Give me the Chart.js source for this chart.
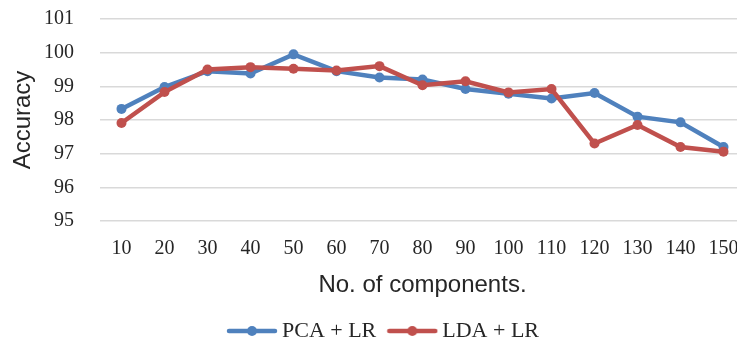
<!DOCTYPE html>
<html>
<head>
<meta charset="utf-8">
<script src="https://cdn.jsdelivr.net/npm/chart.js@4"></script>
<style>
  html, body { margin: 0; padding: 0; background: #fff; overflow: hidden; }
  #wrap { position: relative; width: 750px; height: 352px; }
</style>
</head>
<body>
<div id="wrap"><canvas id="accuracyChart"></canvas></div>
<script>
const components = ['10', '20', '30', '40', '50', '60', '70', '80', '90', '100', '110', '120', '130', '140', '150'];
const pcaLr = [98.33, 98.98, 99.45, 99.38, 99.95, 99.45, 99.26, 99.2, 98.92, 98.78, 98.64, 98.8, 98.1, 97.93, 97.2];
const ldaLr = [97.91, 98.83, 99.5, 99.57, 99.52, 99.47, 99.6, 99.03, 99.15, 98.82, 98.92, 97.3, 97.85, 97.2, 97.06];
const yTicks = [95, 96, 97, 98, 99, 100, 101];

const blue = '#4F81BD';
const red = '#C0504D';

// little line-with-marker icons for the legend, like the spreadsheet one
function legendIcon(color) {
    const c = document.createElement('canvas');
    c.width = 52;
    c.height = 14;
    const g = c.getContext('2d');
    g.strokeStyle = color;
    g.lineWidth = 4.5;
    g.lineCap = 'round';
    g.beginPath();
    g.moveTo(3, 7);
    g.lineTo(49, 7);
    g.stroke();
    g.fillStyle = color;
    g.beginPath();
    g.arc(26, 7, 5, 0, Math.PI * 2);
    g.fill();
    return c;
}
const icons = [legendIcon(blue), legendIcon(red)];

const ctx = document.getElementById('accuracyChart').getContext('2d');
new Chart(ctx, {
    type: 'line',
    data: {
        labels: components,
        datasets: [
            {
                label: 'PCA + LR',
                data: pcaLr,
                borderColor: blue,
                backgroundColor: blue,
                borderWidth: 4.5,
                pointRadius: 5,
                pointBorderWidth: 0,
                pointBackgroundColor: blue,
                order: 1
            },
            {
                label: 'LDA + LR',
                data: ldaLr,
                borderColor: red,
                backgroundColor: red,
                borderWidth: 4.5,
                pointRadius: 5,
                pointBorderWidth: 0,
                pointBackgroundColor: red,
                order: 0
            }
        ]
    },
    options: {
        responsive: true,
        maintainAspectRatio: false,
        animation: false,
        layout: {
            padding: { top: 19, left: 22, right: 0, bottom: 0 }
        },
        plugins: {
            tooltip: { enabled: false },
            legend: {
                position: 'bottom',
                labels: {
                    usePointStyle: true,
                    pointStyleWidth: 38,
                    padding: 17,
                    color: '#262626',
                    font: { family: 'Liberation Serif', size: 22 },
                    sort: (a, b) => a.datasetIndex - b.datasetIndex,
                    generateLabels: function (chart) {
                        const items = Chart.defaults.plugins.legend.labels.generateLabels(chart);
                        items.forEach(it => { it.pointStyle = icons[it.datasetIndex]; });
                        return items;
                    }
                }
            }
        },
        scales: {
            x: {
                offset: true,
                grid: { display: false, offset: true },
                border: { display: false },
                ticks: {
                    color: '#262626',
                    padding: 8,
                    maxRotation: 0,
                    autoSkip: false,
                    font: { family: 'Liberation Serif', size: 20 }
                },
                title: {
                    display: true,
                    text: 'No. of components.',
                    color: '#262626',
                    padding: { top: 0, bottom: 3 },
                    font: { family: 'Liberation Sans', size: 24 }
                },
                afterFit: function (scale) {
                    scale.height = 82;
                    scale.paddingLeft = 0;
                    scale.paddingRight = 0;
                }
            },
            y: {
                min: 95,
                max: 101,
                afterBuildTicks: function (scale) {
                    scale.ticks = yTicks.map(v => ({ value: v }));
                },
                grid: { color: '#D9D9D9', lineWidth: 1.5, drawTicks: false },
                border: { display: false },
                ticks: {
                    color: '#262626',
                    padding: 26,
                    font: { family: 'Liberation Serif', size: 20 }
                },
                title: {
                    display: true,
                    text: 'Accuracy',
                    color: '#262626',
                    padding: { top: -13.5, bottom: 0 },
                    font: { family: 'Liberation Sans', size: 24 }
                },
                afterFit: function (scale) {
                    scale.width = 78;
                    scale.paddingTop = 0;
                    scale.paddingBottom = 0;
                }
            }
        }
    }
});
</script>
</body>
</html>
